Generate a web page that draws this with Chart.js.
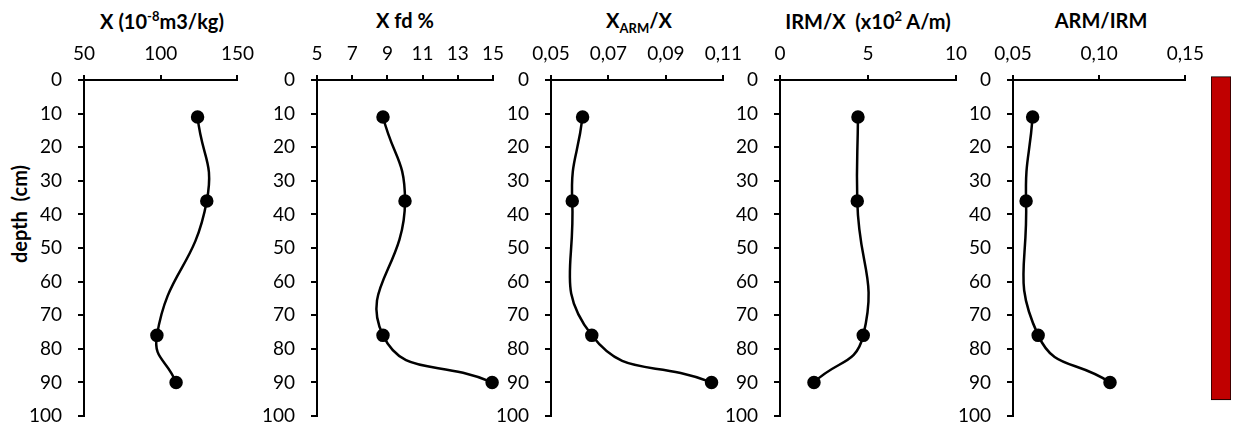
<!DOCTYPE html>
<html lang="en">
<head>
    <meta charset="UTF-8">
    <title>Depth profiles</title>
    <script src="https://cdn.jsdelivr.net/npm/chart.js"></script>
    <style>
        body {
            margin: 0;
            background: #fff;
            font-family: Lato, sans-serif;
        }
        .wrap {
            position: relative;
            width: 1234px;
            height: 428px;
            overflow: hidden;
        }
        .wrap canvas {
            position: absolute;
            top: 0;
        }
        .title {
            position: absolute;
            top: 8px;
            transform: translateX(-50%);
            font-weight: bold;
            font-size: 20px;
            white-space: nowrap;
            color: #000;
        }
        .title sup, .title sub {
            font-size: 13px;
        }
        .ylabel {
            position: absolute;
            left: 19px;
            top: 214px;
            transform: translate(-50%, -50%) rotate(-90deg);
            font-weight: bold;
            font-size: 20px;
            white-space: nowrap;
        }
    </style>
</head>
<body>
<div class="wrap">
    <div class="title" style="left:162px">X (10<sup>-8</sup>m3/kg)</div>
    <div class="title" style="left:405px">X fd %</div>
    <div class="title" style="left:639px">X<sub>ARM</sub>/X</div>
    <div class="title" style="left:868px">IRM/X&nbsp; (x10<sup>2</sup> A/m)</div>
    <div class="title" style="left:1101px">ARM/IRM</div>
    <div class="ylabel">depth&nbsp; (cm)</div>

    <canvas id="c1"></canvas>
    <canvas id="c2"></canvas>
    <canvas id="c3"></canvas>
    <canvas id="c4"></canvas>
    <canvas id="c5"></canvas>
    <canvas id="bar"></canvas>
</div>

<script>
    // sample depths (cm)
    const depth = [11, 36, 76, 90];

    // measured values per depth
    const chi = [124, 130, 97.5, 110];
    const chiFd = [8.75, 10.0, 8.75, 14.95];
    const chiArm = [0.061, 0.0574, 0.0642, 0.1059];
    const irmChi = [4.43, 4.39, 4.73, 1.93];
    const armIrm = [0.0614, 0.0576, 0.0646, 0.1063];

    // red column at the right (depth range)
    const columnRange = [-1, 95.2];

    Chart.defaults.font.family = 'Lato, sans-serif';
    Chart.defaults.font.size = 19;
    Chart.defaults.color = '#000';
    Chart.defaults.animation = false;
    Chart.defaults.responsive = false;

    const AXIS_W = 60;   // room for depth tick labels
    const TOP_H = 80;    // room for value tick labels
    const RIGHT = 25;

    function profile(id, values, axisX, plotW, min, max, step) {
        const cv = document.getElementById(id);
        cv.width = AXIS_W + plotW + RIGHT;
        cv.height = 428;
        cv.style.left = (axisX - AXIS_W) + 'px';

        new Chart(cv, {
            type: 'line',
            data: {
                datasets: [{
                    data: values.map((v, i) => ({ x: v, y: depth[i] })),
                    borderColor: '#000',
                    backgroundColor: '#000',
                    borderWidth: 2.5,
                    pointRadius: 5.5,
                    pointBackgroundColor: '#000',
                    tension: 0.5,
                    clip: false
                }]
            },
            options: {
                locale: 'de-DE',
                layout: { padding: { left: 0, right: RIGHT, top: 0, bottom: 12 } },
                plugins: { legend: { display: false }, tooltip: { enabled: false } },
                scales: {
                    x: {
                        type: 'linear',
                        position: 'top',
                        min: min,
                        max: max,
                        ticks: { stepSize: step, padding: 10, maxRotation: 0, autoSkip: false },
                        grid: { drawOnChartArea: false, tickLength: 5, color: '#000', lineWidth: 2 },
                        border: { color: '#000', width: 2 },
                        afterFit: s => { s.height = TOP_H; }
                    },
                    y: {
                        type: 'linear',
                        reverse: true,
                        min: 0,
                        max: 100,
                        ticks: { stepSize: 10, padding: 16 },
                        grid: { drawOnChartArea: false, tickLength: 6, color: '#000', lineWidth: 2 },
                        border: { color: '#000', width: 2 },
                        afterFit: s => {
                            s.width = AXIS_W;
                            s.paddingTop = 0;
                            s.paddingBottom = 11;
                        }
                    }
                }
            }
        });
    }

    profile('c1', chi, 84, 155, 50, 150, 50);
    profile('c2', chiFd, 317, 176, 5, 15, 2);
    profile('c3', chiArm, 551, 176, 0.05, 0.11, 0.02);
    profile('c4', irmChi, 780, 176, 0, 10, 5);
    profile('c5', armIrm, 1013, 176, 0.05, 0.15, 0.05);

    // red depth column
    const bc = document.getElementById('bar');
    bc.width = 20;
    bc.height = 428;
    bc.style.left = '1211px';
    new Chart(bc, {
        type: 'bar',
        data: {
            labels: [''],
            datasets: [{
                data: [columnRange],
                backgroundColor: '#C00000',
                borderColor: '#000',
                borderWidth: 1,
                borderSkipped: false,
                categoryPercentage: 1,
                barPercentage: 1,
                clip: false
            }]
        },
        options: {
            layout: { padding: { left: 0, right: 0, top: TOP_H, bottom: 12 } },
            plugins: { legend: { display: false }, tooltip: { enabled: false } },
            scales: {
                x: { display: false },
                y: { display: false, reverse: true, min: 0, max: 100 }
            }
        }
    });
</script>
</body>
</html>
